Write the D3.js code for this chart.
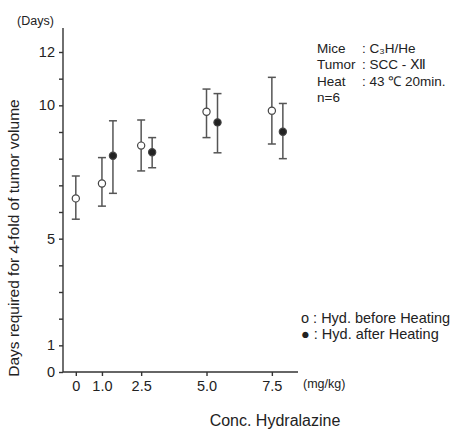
<!DOCTYPE html>
<meta charset="utf-8">
<style>
body{ margin:0; background:#fff; }
svg text{ font-family: "Liberation Sans", Arial, sans-serif; fill:#222; }
.axis path, .axis line{ stroke:#333; stroke-width:1.4; }
.axis text{ font-size:14.5px; }
</style>
<body>
<script src="https://d3js.org/d3.v7.min.js"></script>
<script>
    // concentrations (mg/kg)
    const conc = [0, 1.0, 2.5, 5.0, 7.5];
    const xTicks = [0, 1.0, 2.5, 5.0, 7.5];
    const yTicks = [0, 1, 2, 3, 4, 5, 6, 7, 8, 9, 10, 11, 12];
    const yLabels = [0, 1, 5, 10, 12];

    // Hyd. before Heating (open)
    const beforeMean = [6.51, 7.07, 8.49, 9.76, 9.80];
    const beforeLow  = [5.73, 6.22, 7.54, 8.79, 8.55];
    const beforeHigh = [7.35, 8.04, 9.45, 10.61, 11.05];

    // Hyd. after Heating (filled), no point at 0
    const afterConc = [1.0, 2.5, 5.0, 7.5];
    const afterMean = [8.11, 8.24, 9.36, 9.01];
    const afterLow  = [6.70, 7.66, 8.22, 8.00];
    const afterHigh = [9.42, 8.79, 10.44, 10.07];

    const info = [
        ["Mice", ": C\u2083H/He"],
        ["Tumor", ": SCC - \u216B"],
        ["Heat", ": 43 \u2103 20min."],
        ["n=6", ""]
    ];
    const legend = ["o : Hyd. before Heating", "\u25CF : Hyd. after Heating"];

    const width = 459, height = 430;
    const svg = d3.select("body").append("svg")
        .attr("width", width)
        .attr("height", height);

    const x = d3.scaleLinear().domain([-0.49, 8.5]).range([63, 298]);
    const y = d3.scaleLinear().domain([0, 12.9]).range([372, 28]);

    const xAxis = svg.append("g")
        .attr("class", "axis")
        .attr("transform", "translate(0,372)")
        .call(d3.axisBottom(x).tickValues(xTicks).tickSize(4).tickPadding(5)
            .tickFormat(d => d === 0 ? "0" : d.toFixed(1)));
    xAxis.select(".domain").attr("d", "M63,0H298");

    const yAxis = svg.append("g")
        .attr("class", "axis")
        .attr("transform", "translate(63,0)")
        .call(d3.axisLeft(y).tickValues(yTicks).tickSize(4).tickPadding(4)
            .tickFormat(d => yLabels.includes(d) ? d : ""));
    yAxis.select(".domain").attr("d", "M0,28V372");

    svg.append("text").attr("x", 17).attr("y", 25).style("font-size", "12.5px").text("(Days)");
    svg.append("text").attr("x", 303).attr("y", 388).style("font-size", "12.5px").text("(mg/kg)");
    svg.append("text").attr("x", 275).attr("y", 426).attr("text-anchor", "middle")
        .style("font-size", "16px").text("Conc. Hydralazine");
    svg.append("text")
        .attr("transform", "translate(19,238) rotate(-90)")
        .attr("text-anchor", "middle")
        .style("font-size", "15.5px")
        .text("Days required for 4-fold of tumor volume");

    function drawSeries(cs, mean, low, high, dx, filled){
        const g = svg.append("g");
        const rows = cs.map((c, i) => ({c: c, m: mean[i], lo: low[i], hi: high[i]}));
        const bar = g.selectAll("g").data(rows).join("g")
            .attr("transform", d => `translate(${x(d.c) + dx},0)`);
        bar.append("line").attr("y1", d => y(d.lo)).attr("y2", d => y(d.hi))
            .attr("stroke", "#555").attr("stroke-width", 1.5);
        bar.append("line").attr("x1", -4).attr("x2", 4).attr("y1", d => y(d.hi)).attr("y2", d => y(d.hi))
            .attr("stroke", "#555").attr("stroke-width", 1.5);
        bar.append("line").attr("x1", -4).attr("x2", 4).attr("y1", d => y(d.lo)).attr("y2", d => y(d.lo))
            .attr("stroke", "#555").attr("stroke-width", 1.5);
        bar.append("circle").attr("cy", d => y(d.m)).attr("r", 3.6)
            .attr("fill", filled ? "#222" : "#fff")
            .attr("stroke", "#444").attr("stroke-width", 1.2);
    }
    drawSeries(conc, beforeMean, beforeLow, beforeHigh, 0, false);
    drawSeries(afterConc, afterMean, afterLow, afterHigh, 11, true);

    const inf = svg.append("g").style("font-size", "13.5px");
    info.forEach((r, i) => {
        inf.append("text").attr("x", 317).attr("y", 53 + i * 16.3).text(r[0]);
        inf.append("text").attr("x", 362).attr("y", 53 + i * 16.3).text(r[1]);
    });

    svg.append("g").style("font-size", "14.5px")
        .selectAll("text").data(legend).join("text")
        .attr("x", 301).attr("y", (d, i) => 323 + i * 16)
        .text(d => d);
</script>
</body>
